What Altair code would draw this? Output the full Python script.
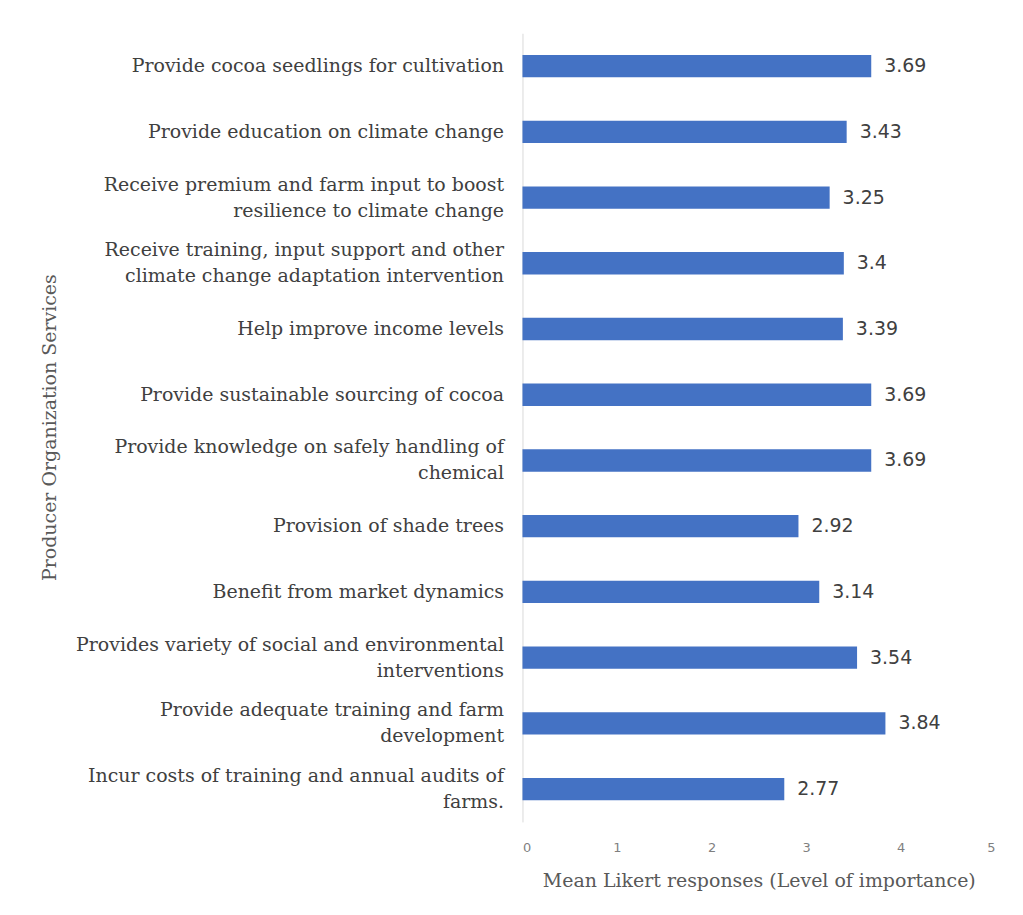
import altair as alt
import pandas as pd

services = [
    "Provide cocoa seedlings for cultivation",
    "Provide education on climate change",
    "Receive premium and farm input to boost|resilience to climate change",
    "Receive training, input support and other|climate change adaptation intervention",
    "Help improve income levels",
    "Provide sustainable sourcing of cocoa",
    "Provide knowledge on safely handling of|chemical",
    "Provision of shade trees",
    "Benefit from market dynamics",
    "Provides variety of social and environmental|interventions",
    "Provide adequate training and farm|development",
    "Incur costs of training and annual audits of|farms.",
]
means = [3.69, 3.43, 3.25, 3.4, 3.39, 3.69, 3.69, 2.92, 3.14, 3.54, 3.84, 2.77]
value_labels = ["3.69", "3.43", "3.25", "3.4", "3.39", "3.69", "3.69", "2.92", "3.14", "3.54", "3.84", "2.77"]
x_ticks = [0, 1, 2, 3, 4, 5]

df = pd.DataFrame({"service": services, "mean": means, "txt": value_labels})

serif = "DejaVu Serif"

y_enc = alt.Y(
    "service:N",
    sort=services,
    scale=alt.Scale(paddingInner=0.66, paddingOuter=0.33),
    axis=alt.Axis(
        title="Producer Organization Services",
        titleFont=serif,
        titleFontSize=19,
        titleFontWeight="normal",
        titleColor="#595959",
        titleX=-474,
        titleY=395,
        titleAngle=-90,
        titleAlign="center",
        titleBaseline="middle",
        labelFont=serif,
        labelFontSize=19,
        labelColor="#404040",
        labelLineHeight=26,
        labelExpr="split(datum.label, '|')",
        labelOffset={"condition": {"test": "indexof(datum.label, '|') >= 0", "value": -13}, "value": 0},
        labelPadding=19,
        labelLimit=600,
        ticks=False,
        domainColor="#d9d9d9",
        domainWidth=1,
    ),
)

x_enc = alt.X(
    "mean:Q",
    scale=alt.Scale(domain=[0, 5], nice=False),
    axis=alt.Axis(
        values=x_ticks,
        format="d",
        title="Mean Likert responses (Level of importance)",
        titleFont=serif,
        titleFontSize=19,
        titleFontWeight="normal",
        titleColor="#595959",
        titlePadding=17,
        labelFont="DejaVu Sans",
        labelFontSize=13,
        labelColor="#7f7f7f",
        labelPadding=20,
        ticks=False,
        domain=False,
        grid=False,
    ),
)

bars = alt.Chart(df).mark_bar(color="#4472C4").encode(x=x_enc, y=y_enc)
texts = alt.Chart(df).mark_text(
    align="left", dx=13, font="DejaVu Sans", fontSize=19, color="#404040"
).encode(x="mean:Q", y=alt.Y("service:N", sort=services), text="txt:N")

chart = (
    alt.layer(bars, texts)
    .properties(
        width=474,
        height=791,
        autosize=alt.AutoSizeParams(type="none"),
        padding={"left": 516, "top": 24, "right": 20, "bottom": 90},
    )
    .configure(background="white")
    .configure_view(strokeWidth=0)
)

chart.save("out.html", embed_options={"renderer": "svg", "actions": False})
